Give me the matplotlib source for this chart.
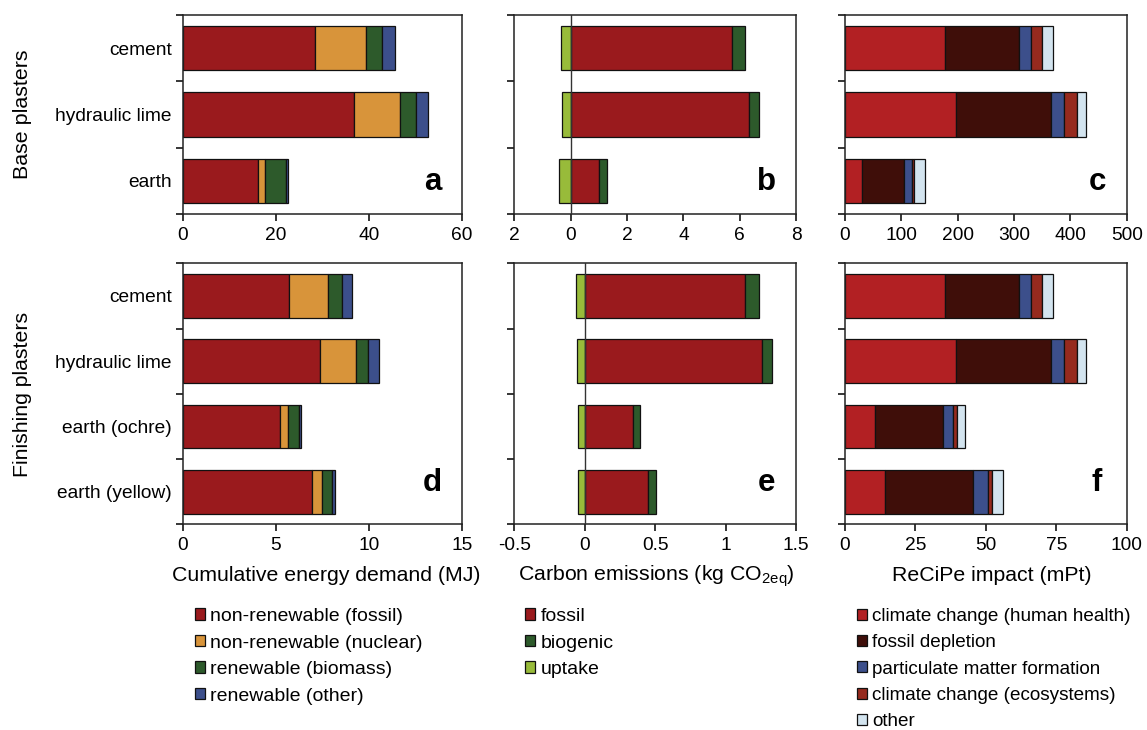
import numpy as np
import matplotlib
matplotlib.use('Agg')
import matplotlib.pyplot as plt
from matplotlib.patches import Patch

plt.rcParams['font.family'] = ['Liberation Sans', 'DejaVu Sans']
plt.rcParams['mathtext.default'] = 'regular'

###############################################################################
# Dados

base_cats = ['cement', 'hydraulic lime', 'earth']
fin_cats = ['cement', 'hydraulic lime', 'earth (ochre)', 'earth (yellow)']

# Cumulative energy demand (MJ) - segmentos
ced_labels = ['non-renewable (fossil)', 'non-renewable (nuclear)',
              'renewable (biomass)', 'renewable (other)']
ced_base_fossil = [28.5, 36.9, 16.2]
ced_base_nuclear = [10.8, 9.9, 1.4]
ced_base_biomass = [3.6, 3.3, 4.5]
ced_base_other = [2.7, 2.7, 0.5]
ced_fin_fossil = [5.70, 7.37, 5.23, 6.92]
ced_fin_nuclear = [2.11, 1.97, 0.45, 0.54]
ced_fin_biomass = [0.76, 0.63, 0.55, 0.57]
ced_fin_other = [0.54, 0.59, 0.15, 0.15]

# Carbon emissions (kg CO2eq)
co2_labels = ['fossil', 'biogenic', 'uptake']
co2_base_fossil = [5.71, 6.32, 1.00]
co2_base_biogenic = [0.49, 0.36, 0.29]
co2_base_uptake = [-0.34, -0.31, -0.41]
co2_fin_fossil = [1.14, 1.26, 0.344, 0.45]
co2_fin_biogenic = [0.096, 0.07, 0.051, 0.053]
co2_fin_uptake = [-0.063, -0.058, -0.046, -0.046]

# ReCiPe impact (mPt)
rcp_labels = ['climate change (human health)', 'fossil depletion',
              'particulate matter formation', 'climate change (ecosystems)', 'other']
rcp_base_cchh = [177.5, 196.5, 30.8]
rcp_base_fossil = [131.4, 169.2, 74.5]
rcp_base_pm = [21.1, 23.6, 14.2]
rcp_base_cceco = [20.3, 22.7, 3.5]
rcp_base_other = [19.5, 16.0, 19.0]
rcp_fin_cchh = [35.6, 39.4, 10.7, 14.2]
rcp_fin_fossil = [26.1, 33.7, 24.2, 31.4]
rcp_fin_pm = [4.4, 4.7, 3.4, 5.0]
rcp_fin_cceco = [3.9, 4.4, 1.3, 1.5]
rcp_fin_other = [3.9, 3.3, 2.9, 3.9]

ced_colors = ['#9a1a1d', '#d8943a', '#2d5a2b', '#3c4f8b']
co2_colors = ['#9a1a1d', '#2d5a2b', '#98bb3a']
rcp_colors = ['#b22023', '#3f0e09', '#3c4f8b', '#962a1e', '#d3e4ef']

EDGE = '#111111'
FS = 13.8

###############################################################################
# Funções

def empilha(ax, cats, series, colors):
    y = np.arange(len(cats))
    left = np.zeros(len(cats))
    for vals, c in zip(series, colors):
        vals = np.array(vals)
        ax.barh(y, vals, left=left, height=0.67, color=c, edgecolor=EDGE,
                linewidth=0.9, zorder=2)
        left = left + vals

def carbono(ax, cats, fossil, biog, uptake):
    y = np.arange(len(cats))
    ax.barh(y, uptake, left=0, height=0.67, color=co2_colors[2],
            edgecolor=EDGE, linewidth=0.9, zorder=2)
    ax.barh(y, fossil, left=0, height=0.67, color=co2_colors[0],
            edgecolor=EDGE, linewidth=0.9, zorder=2)
    ax.barh(y, biog, left=fossil, height=0.67, color=co2_colors[1],
            edgecolor=EDGE, linewidth=0.9, zorder=2)
    ax.axvline(0, color='#333333', lw=1.0, zorder=3)

def arruma_eixo(ax, cats, xlim, xticks, xlabels, letra, mostra_cats):
    n = len(cats)
    ax.set_ylim(n - 0.5, -0.5)
    ax.set_xlim(*xlim)
    ax.set_yticks(np.arange(-0.5, n, 1.0))
    ax.set_yticklabels([])
    ax.set_yticks(np.arange(n), minor=True)
    if mostra_cats:
        ax.set_yticklabels(cats, minor=True, fontsize=FS)
    else:
        ax.set_yticklabels([], minor=True)
    ax.tick_params(axis='y', which='minor', length=0, pad=8)
    ax.tick_params(axis='y', which='major', length=5, width=1.1, direction='out')
    ax.set_xticks(xticks)
    ax.set_xticklabels(xlabels, fontsize=FS)
    ax.tick_params(axis='x', length=5, width=1.1, direction='out', pad=4)
    for s in ax.spines.values():
        s.set_linewidth(1.1)
        s.set_color('#222222')
    ax.text(0.895, 0.16, letra, transform=ax.transAxes, fontsize=22.5,
            fontweight='bold', ha='center', va='center')

###############################################################################

fig = plt.figure(figsize=(11.47, 7.3), dpi=100, facecolor='white')

lefts = [0.1595, 0.4485, 0.7367]
widths = [0.243, 0.2455, 0.2456]
top_b, top_h = 0.7068, 0.2726
bot_b, bot_h = 0.2818, 0.3575

ax_a = fig.add_axes([lefts[0], top_b, widths[0], top_h])
ax_b = fig.add_axes([lefts[1], top_b, widths[1], top_h])
ax_c = fig.add_axes([lefts[2], top_b, widths[2], top_h])
ax_d = fig.add_axes([lefts[0], bot_b, widths[0], bot_h])
ax_e = fig.add_axes([lefts[1], bot_b, widths[1], bot_h])
ax_f = fig.add_axes([lefts[2], bot_b, widths[2], bot_h])

empilha(ax_a, base_cats, [ced_base_fossil, ced_base_nuclear, ced_base_biomass, ced_base_other], ced_colors)
carbono(ax_b, base_cats, np.array(co2_base_fossil), co2_base_biogenic, co2_base_uptake)
empilha(ax_c, base_cats, [rcp_base_cchh, rcp_base_fossil, rcp_base_pm, rcp_base_cceco, rcp_base_other], rcp_colors)
empilha(ax_d, fin_cats, [ced_fin_fossil, ced_fin_nuclear, ced_fin_biomass, ced_fin_other], ced_colors)
carbono(ax_e, fin_cats, np.array(co2_fin_fossil), co2_fin_biogenic, co2_fin_uptake)
empilha(ax_f, fin_cats, [rcp_fin_cchh, rcp_fin_fossil, rcp_fin_pm, rcp_fin_cceco, rcp_fin_other], rcp_colors)

arruma_eixo(ax_a, base_cats, (0, 60), [0, 20, 40, 60], ['0', '20', '40', '60'], 'a', True)
arruma_eixo(ax_b, base_cats, (-2, 8), [-2, 0, 2, 4, 6, 8], ['2', '0', '2', '4', '6', '8'], 'b', False)
arruma_eixo(ax_c, base_cats, (0, 500), [0, 100, 200, 300, 400, 500],
            ['0', '100', '200', '300', '400', '500'], 'c', False)
arruma_eixo(ax_d, fin_cats, (0, 15), [0, 5, 10, 15], ['0', '5', '10', '15'], 'd', True)
arruma_eixo(ax_e, fin_cats, (-0.5, 1.5), [-0.5, 0, 0.5, 1, 1.5], ['-0.5', '0', '0.5', '1', '1.5'], 'e', False)
arruma_eixo(ax_f, fin_cats, (0, 100), [0, 25, 50, 75, 100], ['0', '25', '50', '75', '100'], 'f', False)

# Rótulos das linhas
fig.text(22 / 1147, 0.843, 'Base plasters', rotation=90, ha='center', va='center', fontsize=15.4)
fig.text(22 / 1147, 0.4595, 'Finishing plasters', rotation=90, ha='center', va='center', fontsize=15.3)

# Rótulos dos eixos x
ybase = 1 - 581 / 730
fig.text(326 / 1147, ybase, 'Cumulative energy demand (MJ)', ha='center', va='baseline', fontsize=15.3)
fig.text(656 / 1147, ybase, 'Carbon emissions (kg CO$_{2eq}$)', ha='center', va='baseline', fontsize=15.3)
fig.text(992 / 1147, ybase, 'ReCiPe impact (mPt)', ha='center', va='baseline', fontsize=15.3)

# Legendas
def legenda(x_px, labels, colors, fs):
    handles = [Patch(facecolor=c, edgecolor=EDGE, linewidth=0.9) for c in colors]
    fig.legend(handles, labels, loc='upper left', bbox_to_anchor=(x_px / 1147, 1 - 608 / 730),
               frameon=False, fontsize=fs, handlelength=0.52, handleheight=0.52,
               handletextpad=0.27, labelspacing=0.49, borderaxespad=0, borderpad=0)

legenda(195, ced_labels, ced_colors, 14)
legenda(525, co2_labels, co2_colors, 14)
legenda(857, rcp_labels, rcp_colors, 13.6)

plt.savefig('out.png', dpi=100, facecolor='white')
